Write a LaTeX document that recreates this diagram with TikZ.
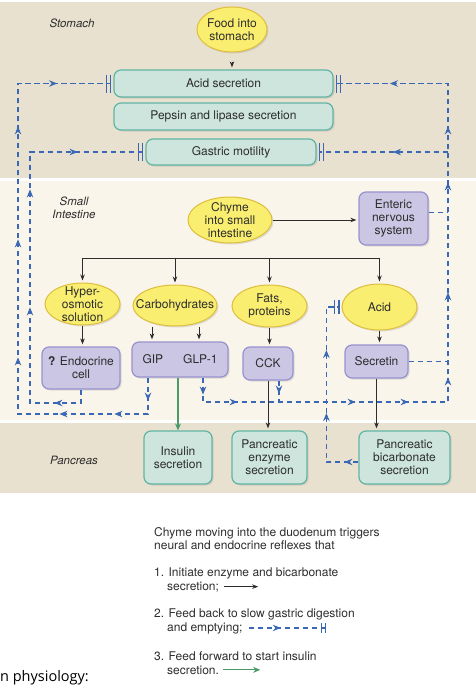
\documentclass[tikz,border=0pt]{standalone}
\usepackage{fontspec}
\setmainfont{TeX Gyre Heros}
\newfontfamily\capfont{Open Sans}
\usetikzlibrary{arrows.meta,shapes.geometric,shadows,decorations.markings}
\definecolor{stomachbg}{RGB}{233,225,207}
\definecolor{intestbg}{RGB}{250,245,234}
\definecolor{tealfill}{RGB}{205,229,221}
\definecolor{tealline}{RGB}{96,180,163}
\definecolor{lilacfill}{RGB}{202,198,228}
\definecolor{lilacline}{RGB}{152,146,206}
\definecolor{yelfill}{RGB}{249,238,112}
\definecolor{yelline}{RGB}{222,190,60}
\definecolor{fbblue}{RGB}{58,104,180}
\definecolor{ffgreen}{RGB}{76,154,106}
\definecolor{ink}{RGB}{45,45,45}
\tikzset{dblbar/.tip={Bar[width=18pt,line width=1.2pt,sep=3pt]Bar[width=18pt,line width=1.2pt]},
         dblbarsm/.tip={Bar[width=14pt,line width=1.2pt,sep=3pt]Bar[width=14pt,line width=1.2pt]},
         dblbarxs/.tip={Bar[width=10pt,line width=1.1pt,sep=3pt]Bar[width=10pt,line width=1.1pt]}}

\begin{document}
\begin{tikzpicture}[x=1pt, y=-1pt, >={Stealth[length=6pt,width=4.5pt]},
  boxshadow/.style={drop shadow={shadow xshift=1.5pt, shadow yshift=-1.5pt, opacity=0.22}},
  oval/.style={ellipse, draw=yelline, fill=yelfill, line width=1pt, inner xsep=-10pt, inner ysep=-5pt, align=center, boxshadow},
  gastric/.style={rectangle, rounded corners=7pt, draw=tealline, fill=tealfill, line width=1.2pt, inner sep=0pt, align=center, boxshadow},
  hormone/.style={rectangle, rounded corners=7pt, draw=lilacline, fill=lilacfill, line width=1.2pt, inner sep=0pt, align=center, boxshadow},
  flow/.style={->, draw=ink, line width=0.9pt, shorten >=2pt},
  fbline/.style={draw=fbblue, line width=1.2pt, dash pattern=on 5.5pt off 3.5pt, shorten >=2pt},
  fbtip/.style={postaction={decorate, decoration={markings, mark=at position #1 with {\arrow[solid]{Stealth[length=8pt,width=6.5pt]}}}}},
  ffline/.style={->, draw=ffgreen, line width=1.1pt, >={Stealth[length=7pt,width=6pt]}},
  region/.style={font=\itshape\fontsize{11.5}{13}\selectfont, align=center},
  legend/.style={anchor=base west, inner sep=0pt}]
\tikzstyle{every node}=[font=\fontsize{12}{13}\selectfont, text=ink]
\useasboundingbox (0,0) rectangle (476,688);
\fill[stomachbg] (0,2) rectangle (476,178);
\fill[intestbg] (0,181) rectangle (476,420);
\fill[stomachbg] (0,423) rectangle (476,493);

\node [region] (lstom) at (72,23) {Stomach};
\node [region] (lsmall) at (74,208) {Small\\Intestine};
\node [region] (lpanc) at (74,460) {Pancreas};

\node [oval, minimum width=70pt, minimum height=45pt] (food) at (232,29.5) {Food into\\stomach};
\node [gastric, minimum width=219pt, minimum height=27pt] (acidsec) at (223.5,83.5) {Acid secretion};
\node [gastric, minimum width=219pt, minimum height=27pt] (pepsin) at (223.5,116.5) {Pepsin and lipase secretion};
\node [gastric, minimum width=170pt, minimum height=26pt] (motility) at (231,152) {Gastric motility};

\node [oval, minimum width=84pt, minimum height=46pt] (chyme) at (230,220) {Chyme\\into small\\intestine};
\node [hormone, minimum width=69pt, minimum height=53pt] (enteric) at (393.5,218.5) {Enteric\\nervous\\system};

\node [oval, minimum width=75pt, minimum height=42pt] (hyper) at (82.5,304) {Hyper-\\osmotic\\solution};
\node [oval, minimum width=84pt, minimum height=41pt] (carbs) at (175,305.5) {Carbohydrates};
\node [oval, minimum width=75pt, minimum height=42pt] (fats) at (269.5,306) {Fats,\\proteins};
\node [oval, minimum width=75pt, minimum height=46pt] (acid) at (379.5,307) {Acid};

\node [hormone, minimum width=78pt, minimum height=42pt] (endo) at (81,368) {\textbf{?} Endocrine\\cell};
\node [hormone, minimum width=96pt, minimum height=35pt] (gip) at (180,359.5) {GIP\hspace{20pt}GLP-1};
\node [hormone, minimum width=50pt, minimum height=33pt] (cck) at (268,363.5) {CCK};
\node [hormone, minimum width=63pt, minimum height=33pt] (secretin) at (376.5,361.5) {Secretin};

\node [gastric, minimum width=68pt, minimum height=53pt] (insulin) at (178,457.5) {Insulin\\secretion};
\node [gastric, minimum width=75pt, minimum height=53pt] (enzyme) at (269.5,457.5) {Pancreatic\\enzyme\\secretion};
\node [gastric, minimum width=91pt, minimum height=53pt] (bicarb) at (404.5,457.5) {Pancreatic\\bicarbonate\\secretion};

\coordinate (railL) at (18,414);
\coordinate (railM) at (30,403);
\coordinate (railR) at (448,402);
\coordinate (bus) at (230,258);
\coordinate (gipL) at ([xshift=-32pt]gip.south);
\coordinate (gipR) at ([xshift=23pt]gip.south);
\coordinate (cckout) at ([xshift=11pt]cck.south);
\coordinate (entout) at ([yshift=6pt]enteric.east);
\coordinate (bicout) at ([yshift=-4.5pt]bicarb.west);

\path (food.south) edge [flow, shorten <=9pt] (food.south |- acidsec.north);
\path (chyme.east) edge [flow] (chyme.east -| enteric.west);
\draw[ink, line width=0.9pt] (hyper.north |- bus) -- (acid.north |- bus);
\path (hyper.north |- bus) edge [flow] (hyper.north);
\path (carbs.north |- bus) edge [flow] (carbs.north);
\path (fats.north |- bus) edge [flow] (fats.north);
\path (acid.north |- bus) edge [flow] (acid.north);
\path (hyper.south) edge [flow] (hyper.south |- endo.north);
\path ([xshift=-23pt]carbs.south) edge [flow] ([xshift=-28pt]gip.north);
\path ([xshift=24pt]carbs.south) edge [flow] ([xshift=19pt]gip.north);
\path (fats.south) edge [flow] (fats.south |- cck.north);
\path (acid.south) edge [flow] (acid.south |- secretin.north);
\path (cck.south) edge [flow] (cck.south |- enzyme.north);
\path (secretin.south) edge [flow] (secretin.south |- bicarb.north);
\draw[ffline] (insulin.north |- gip.south) -- (insulin.north);

\draw[fbline, -dblbar, fbtip=23pt, fbtip=70pt, fbtip=125pt, fbtip=223pt, fbtip=341pt, fbtip=454pt, fbtip=536pt]
  (gipL) |- (railL) |- (acidsec.west);
\draw[fbline, -dblbar, fbtip=40pt, fbtip=160pt, fbtip=278pt, fbtip=363pt]
  (endo.south) |- (railM) |- (motility.west);
\draw[fbline, -dblbar, fbtip=17pt, fbtip=59pt, fbtip=177pt, fbtip=230pt, fbtip=294pt, fbtip=379pt, fbtip=489pt, fbtip=545pt, fbtip=646pt]
  (gipR) |- (railR) |- (acidsec.east);
\draw[fbline, -dblbar, fbtip=55pt] (railR |- motility.east) -- (motility.east);
\draw[fbline, fbtip=13pt, shorten >=0pt] (cckout) -- (cckout |- railR);
\draw[fbline, shorten >=0pt] (entout) -- (entout -| railR);
\draw[fbline, shorten >=0pt] (secretin.east) -- (secretin.east -| railR);
\draw[fbline, -dblbarsm, fbtip=14pt, fbtip=81pt, fbtip=144pt] (bicout) -- ++(-32,0) |- (acid.west);

\node [legend] (lg1) at (154,536) {Chyme moving into the duodenum triggers};
\node [legend] (lg2) at (154,549) {neural and endocrine reflexes that};
\node [legend] (lg3) at (154,576) {1. Initiate enzyme and bicarbonate};
\node [legend] (lg4) at (167,590) {secretion;};
\node [legend] (lg5) at (154,617) {2. Feed back to slow gastric digestion};
\node [legend] (lg6) at (167,631) {and emptying;};
\node [legend] (lg7) at (154,660) {3. Feed forward to start insulin};
\node [legend] (lg8) at (167,674) {secretion.};
\draw[flow, shorten >=0pt] ([xshift=5pt]lg4.east) -- ++(34,0);
\draw[fbline, -dblbarxs, fbtip=32pt, shorten >=0pt] ([xshift=6pt]lg6.east) -- ++(77,0);
\draw[ffline] ([xshift=4pt]lg8.east) -- ++(37,0);

\node [anchor=base west, inner sep=0pt, font=\capfont\fontsize{14.5}{16}\selectfont, text=black] (cap) at (0,681) {n physiology:};
\end{tikzpicture}
\end{document}
